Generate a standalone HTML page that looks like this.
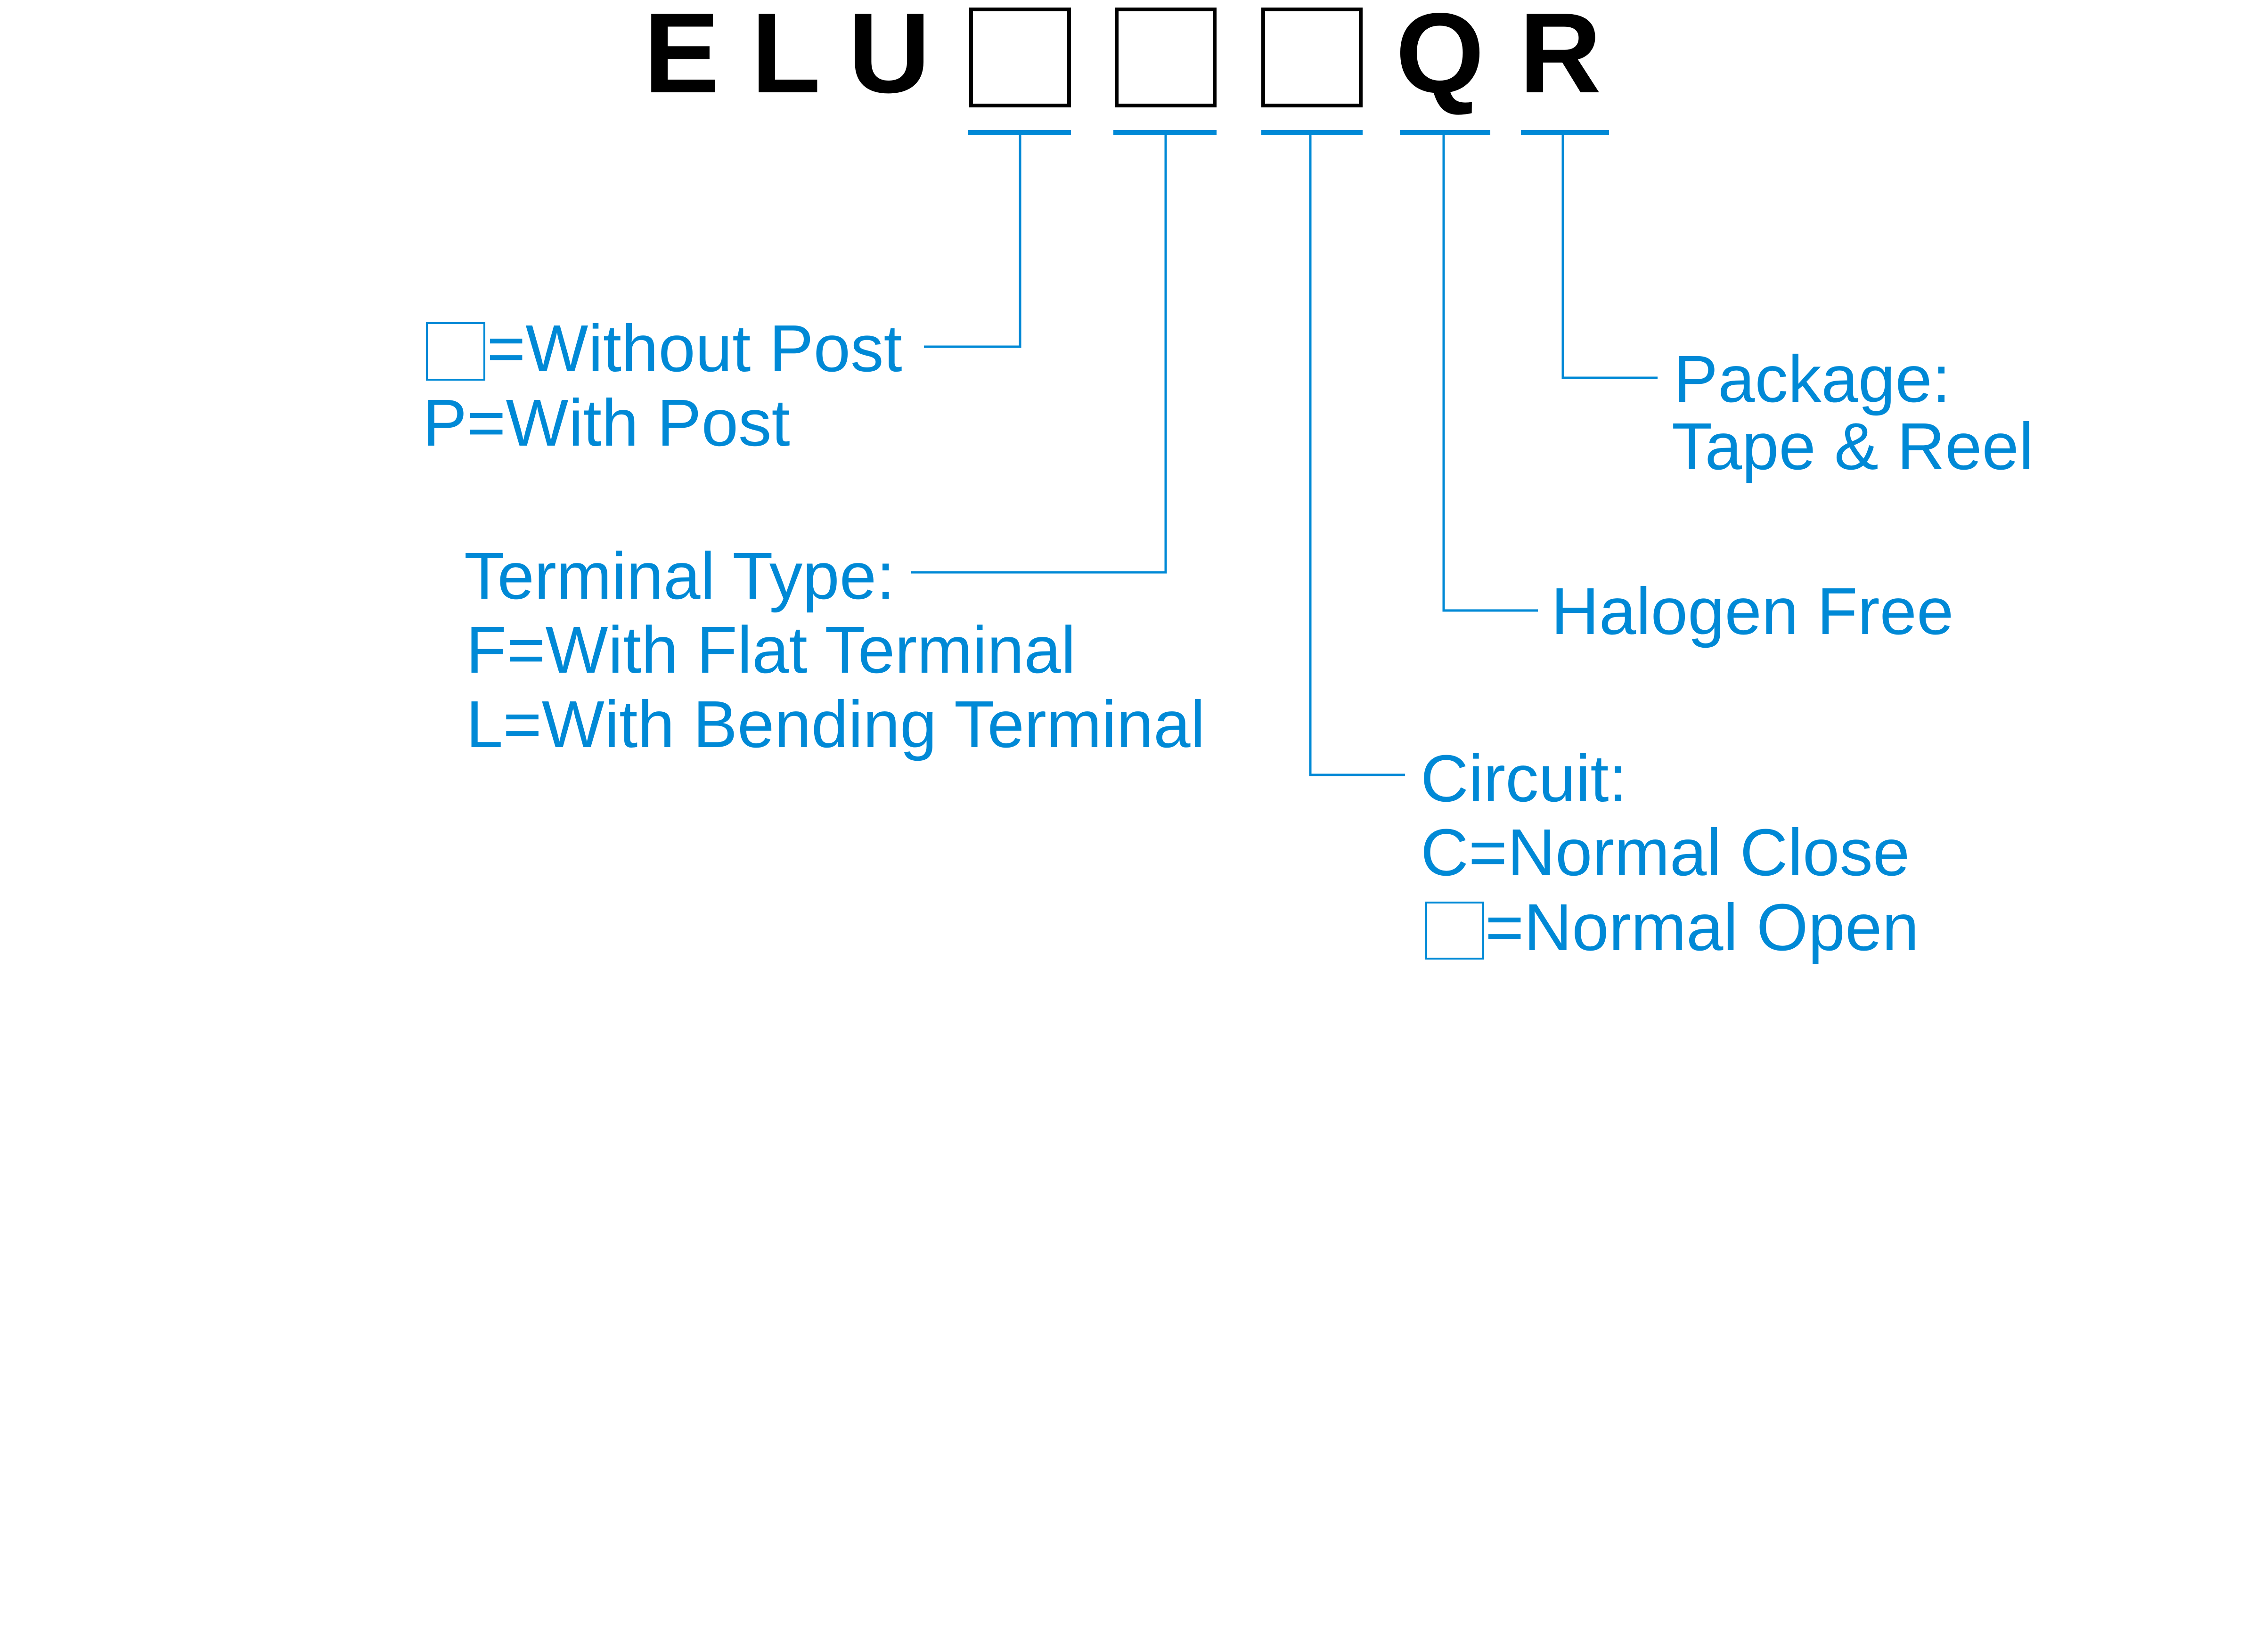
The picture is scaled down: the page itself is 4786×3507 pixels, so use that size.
<!DOCTYPE html>
<html><head><meta charset="utf-8"><style>html,body{margin:0;padding:0;background:#fff}svg{display:block}</style></head>
<body>
<svg width="4786" height="3507" viewBox="0 0 4786 3507" xmlns="http://www.w3.org/2000/svg">
<rect width="4786" height="3507" fill="#fff"/>
<g font-family="Liberation Sans, Arial, sans-serif" font-weight="bold" font-size="242" fill="#000">
<text x="1366" y="196">E</text>
<text x="1594" y="196">L</text>
<text x="1800" y="196">U</text>
<text x="2962" y="196">Q</text>
<text x="3224" y="196">R</text>
</g>
<g fill="none" stroke="#000" stroke-width="8">
<rect x="2061" y="20" width="208" height="204"/>
<rect x="2370" y="20" width="208" height="204"/>
<rect x="2681" y="20" width="207" height="204"/>
</g>
<g fill="#0089d6">
<rect x="2055" y="276" width="218" height="11"/>
<rect x="2363" y="276" width="219" height="11"/>
<rect x="2677" y="276" width="215" height="11"/>
<rect x="2971" y="276" width="192" height="11"/>
<rect x="3228" y="276" width="187" height="11"/>
</g>
<g fill="none" stroke="#0089d6" stroke-width="5">
<polyline points="2165,285 2165,736 1961,736"/>
<polyline points="2474,285 2474,1215 1934,1215"/>
<polyline points="2781,285 2781,1645 2982,1645"/>
<polyline points="3064,285 3064,1296 3264,1296"/>
<polyline points="3317,285 3317,802 3518,802"/>
<rect x="906" y="686" width="122" height="120" stroke-width="4"/>
<rect x="3027" y="1916" width="121" height="119" stroke-width="4"/>
</g>
<g font-family="Liberation Sans, Arial, sans-serif" font-size="141" fill="#0089d6">
<text x="1033" y="788">=Without Post</text>
<text x="897" y="946">P=With Post</text>
<text x="985" y="1271">Terminal Type:</text>
<text x="989" y="1428">F=With Flat Terminal</text>
<text x="989" y="1586">L=With Bending Terminal</text>
<text x="3552" y="853">Package:</text>
<text x="3548" y="996">Tape &amp; Reel</text>
<text x="3292" y="1346">Halogen Free</text>
<text x="3015" y="1701">Circuit:</text>
<text x="3015" y="1858">C=Normal Close</text>
<text x="3152" y="2017">=Normal Open</text>
</g>
</svg>
</body></html>
